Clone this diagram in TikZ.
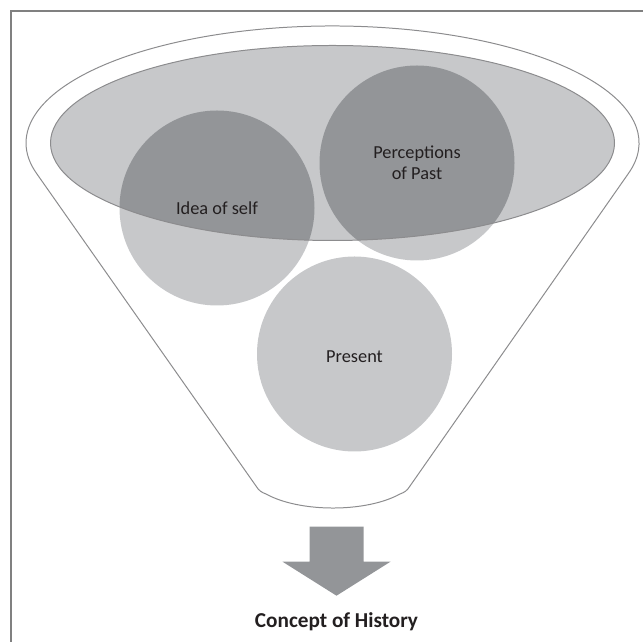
\documentclass[tikz,border=0pt]{standalone}
\usepackage{fontspec}
\setmainfont{Carlito}
\definecolor{lightgrey}{HTML}{C7C8CA}
\definecolor{darkgrey}{HTML}{939598}
\definecolor{rimgrey}{HTML}{8C8C8E}
\definecolor{framegrey}{HTML}{808080}
\definecolor{textgrey}{HTML}{231F20}

\begin{document}
\begin{tikzpicture}[x=1bp,y=1bp,
    label text/.style={text=textgrey,font=\fontsize{18.4}{20.7}\selectfont,align=center}]
    \useasboundingbox (0,0) rectangle (643,642);
    \coordinate (bowl) at (332.5,499);
    \coordinate (self_c) at (217,434);
    \coordinate (past_c) at (417,479);
    \coordinate (present_c) at (354.5,288);
    % frame
    \draw[framegrey,line width=1.5] (11,0) -- (11,631) -- (643,631);
    % funnel
    \draw[rimgrey,line width=1] (bowl) ++(-15.2:306.5 and 117)
        arc[start angle=-15.2,end angle=195.2,x radius=306.5,y radius=117]
        -- (256,156) .. controls (259,151) and (262,149.5) .. (266,148)
        .. controls (300,129.3) and (366,129.3) .. (400,148)
        .. controls (404,149.5) and (407,151) .. (410,156) -- cycle;
    \fill[lightgrey] (bowl) ellipse[x radius=282,y radius=97.5];
    \fill[lightgrey] (self_c) circle[radius=97.5] (past_c) circle[radius=97.5]
        (present_c) circle[radius=97.5];
    \begin{scope}
        \clip (bowl) ellipse[x radius=282,y radius=97.5];
        \fill[darkgrey] (self_c) circle[radius=97.5] (past_c) circle[radius=97.5];
    \end{scope}
    \draw[rimgrey,line width=1] (bowl) ellipse[x radius=282,y radius=97.5];
    \node[label text] (self) at (self_c) {Idea of self};
    \node[label text] (past) at (past_c) {Perceptions\\of Past};
    \node[label text] (present) at ([yshift=-3]present_c) {Present};
    % arrow
    \fill[darkgrey] (309.5,115.3) -- (363.5,115.3) -- (363.5,80.3) -- (390.5,80.3)
        -- (336.5,46.3) -- (282.5,80.3) -- (309.5,80.3) -- cycle;
    \node[text=textgrey,font=\bfseries\fontsize{21.3}{24}\selectfont,anchor=base] (history)
        at (336.5,14) {Concept of History};
\end{tikzpicture}
\end{document}
